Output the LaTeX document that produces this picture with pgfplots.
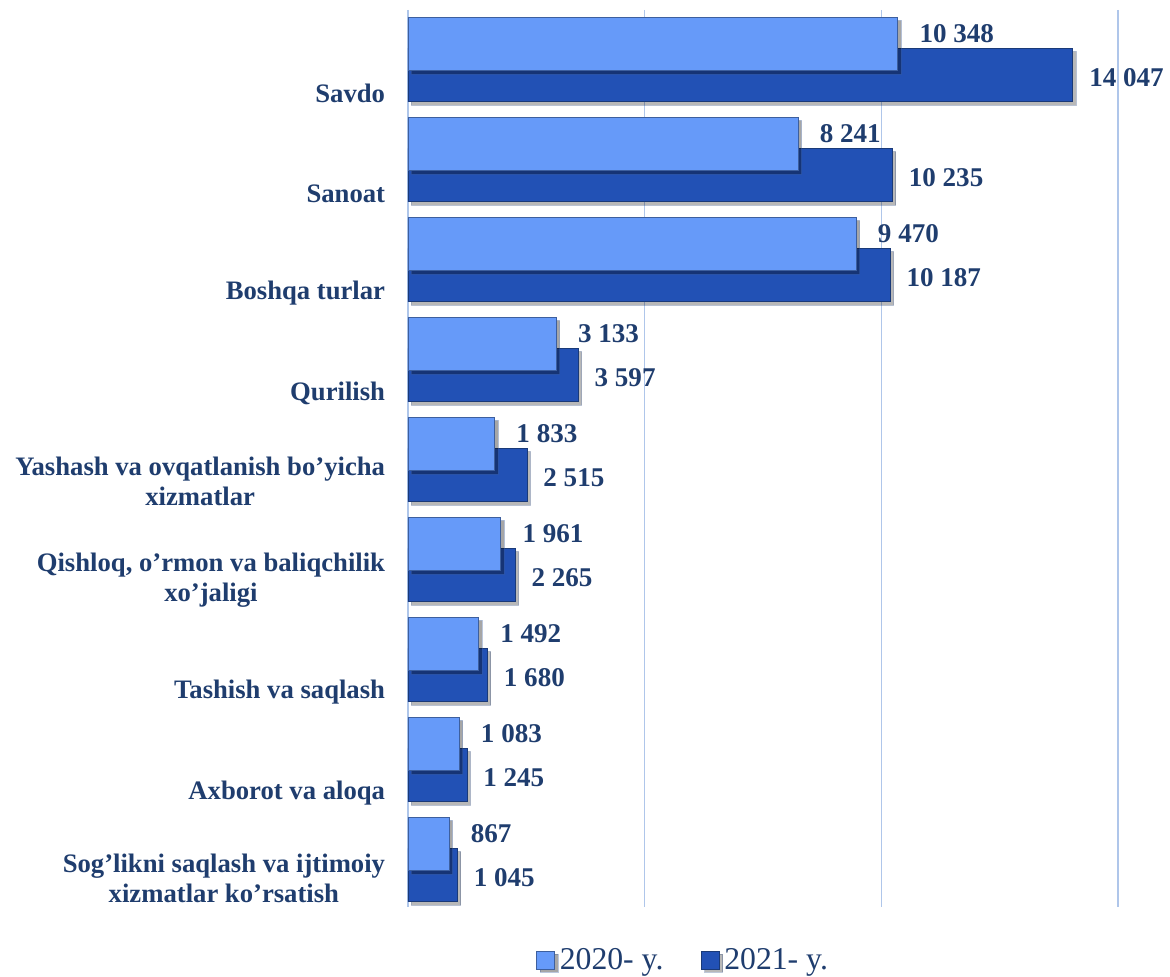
\documentclass[border=0pt]{standalone}
\usepackage{pgfplots}
\pgfplotsset{compat=1.18}
\usepackage{pgfplotstable}
\usepackage{fontspec}
\setmainfont{Liberation Serif}
\usetikzlibrary{shadows}
\definecolor{navy}{HTML}{1F3D6E}
\definecolor{lightbar}{HTML}{669AF9}
\definecolor{lightedge}{HTML}{3D5F9E}
\definecolor{darkbar}{HTML}{2251B5}
\definecolor{darkedge}{HTML}{1A3A78}
\definecolor{gridc}{HTML}{AFC6EA}
\pgfplotstableread{
i v2020 v2021
0 10348 14047
1 8241 10235
2 9470 10187
3 3133 3597
4 1833 2515
5 1961 2265
6 1492 1680
7 1083 1245
8 867 1045
}\data
\begin{document}
\begin{tikzpicture}
\begin{axis}[
  at={(0,0)}, anchor=south west,
  scale only axis,
  width=532.5pt, height=672.75pt,
  xbar,
  y dir=reverse,
  xmin=0, xmax=15000,
  ymin=-0.495, ymax=8.475,
  axis line style={draw=none},
  xmajorgrids, grid style={gridc, line width=0.8pt},
  xtick={0,5000,10000,15000}, xticklabels={},
  scaled x ticks=false,
  major tick length=0pt,
  ytick={0.34,1.34,2.34,3.34,4.215,5.205,6.325,7.335,8.185},
  yticklabels={{Savdo},{Sanoat},{Boshqa turlar},{Qurilish},{Yashash va ovqatlanish bo’yicha\\xizmatlar},{Qishloq, o’rmon va baliqchilik\\xo’jaligi},{Tashish va saqlash},{Axborot va aloqa},{Sog’likni saqlash va ijtimoiy\\xizmatlar ko’rsatish}},
  yticklabel style={align=center, anchor=east, inner sep=0pt, xshift=-17pt, text=navy, font=\bfseries\fontsize{20}{22.5}\selectfont},
  bar width=0.535,
  point meta=x,
  nodes near coords,
  nodes near coords style={anchor=west, inner sep=0pt, xshift=16pt, text=navy, font=\bfseries\fontsize{20.3}{24}\selectfont, /pgf/number format/assume math mode=true, /pgf/number format/fixed, /pgf/number format/precision=0, /pgf/number format/1000 sep={\ }},
  legend columns=2,
  reverse legend,
  legend style={at={(rel axis cs:0.388,-0.059)}, anchor=center, draw=none, fill=none, font=\fontsize{23.8}{26}\selectfont, text=navy, /tikz/every even column/.append style={column sep=26pt}},
  legend image code/.code={\path[#1] (0pt,-6.75pt) rectangle (13.5pt,6.75pt); \path (15pt,0pt);},
]
\addplot[bar shift=0.155, fill=darkbar, draw=darkedge, line width=0.6pt, drop shadow={shadow xshift=2.5pt, shadow yshift=-2.5pt, opacity=0.28, fill=black}, nodes near coords style={yshift=-2pt, xshift=-4pt}] table[x=v2021, y=i] {\data};
\addplot[bar shift=-0.155, fill=lightbar, draw=lightedge, line width=0.6pt, drop shadow={shadow xshift=2.5pt, shadow yshift=-2.5pt, opacity=0.35, fill=black}, nodes near coords style={yshift=7.5pt}] table[x=v2020, y=i] {\data};
\legend{2021- y., 2020- y.}
\end{axis}
\pgfresetboundingbox
\path[use as bounding box] (-306pt,-52.5pt) rectangle (571.5pt,680.25pt);
\end{tikzpicture}
\end{document}
